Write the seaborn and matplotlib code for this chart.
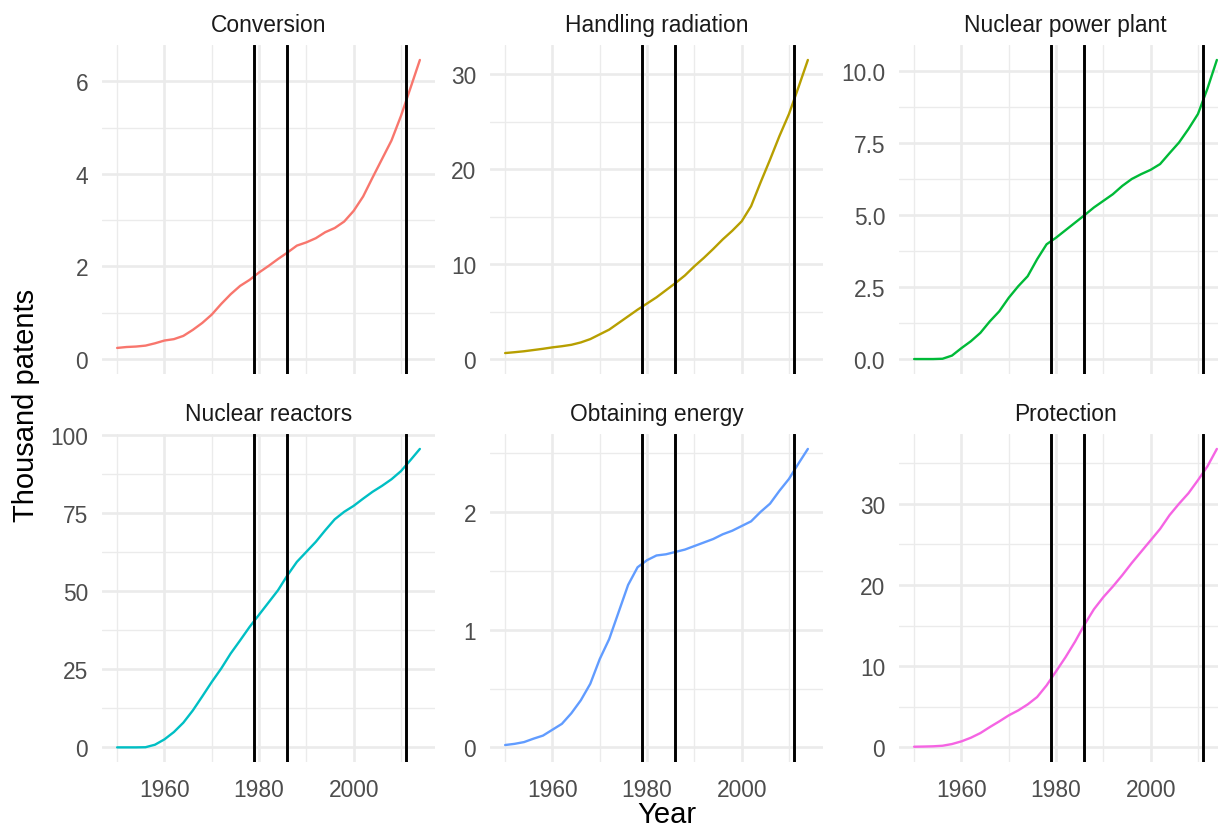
import matplotlib
matplotlib.use("Agg")
import matplotlib.pyplot as plt
from matplotlib.ticker import FixedLocator
import numpy as np
import pandas as pd
import seaborn as sns

# Cumulative patent counts (thousands), sampled every second year
years = list(range(1950, 2015, 2))

conversion = [0.24, 0.26, 0.27, 0.29, 0.34, 0.40, 0.43, 0.50, 0.63, 0.78, 0.96,
              1.19, 1.40, 1.58, 1.71, 1.87, 2.01, 2.16, 2.30, 2.45, 2.52, 2.61,
              2.74, 2.83, 2.97, 3.20, 3.51, 3.92, 4.32, 4.72, 5.25, 5.85, 6.46]
handling_radiation = [0.63, 0.72, 0.82, 0.95, 1.08, 1.23, 1.35, 1.50, 1.75, 2.10, 2.60,
                      3.10, 3.80, 4.50, 5.20, 5.85, 6.50, 7.25, 8.00, 8.80, 9.77, 10.65,
                      11.6, 12.6, 13.5, 14.5, 16.1, 18.6, 21.0, 23.5, 25.8, 28.6, 31.5]
nuclear_power_plant = [0.0, 0.0, 0.0, 0.01, 0.12, 0.38, 0.62, 0.91, 1.31, 1.66, 2.13,
                       2.53, 2.88, 3.47, 3.99, 4.22, 4.48, 4.74, 5.00, 5.27, 5.50, 5.73,
                       6.02, 6.26, 6.43, 6.58, 6.78, 7.16, 7.53, 8.00, 8.52, 9.40, 10.4]
nuclear_reactors = [0.0, 0.0, 0.0, 0.05, 0.85, 2.56, 4.9, 7.9, 11.8, 16.3, 20.9,
                    25.2, 30.0, 34.2, 38.5, 42.4, 46.3, 50.2, 55.0, 59.3, 62.5, 65.7,
                    69.4, 72.9, 75.3, 77.2, 79.5, 81.7, 83.6, 85.7, 88.3, 91.8, 95.4]
obtaining_energy = [0.02, 0.03, 0.045, 0.074, 0.10, 0.15, 0.20, 0.29, 0.40, 0.54, 0.75,
                    0.92, 1.15, 1.38, 1.53, 1.59, 1.63, 1.64, 1.66, 1.68, 1.71, 1.74,
                    1.77, 1.81, 1.84, 1.88, 1.92, 2.00, 2.07, 2.18, 2.28, 2.41, 2.535]
protection = [0.08, 0.10, 0.13, 0.20, 0.41, 0.74, 1.19, 1.76, 2.50, 3.20, 3.94,
              4.55, 5.29, 6.20, 7.63, 9.36, 11.1, 13.0, 15.1, 17.0, 18.5, 19.8,
              21.2, 22.7, 24.1, 25.5, 26.9, 28.6, 30.0, 31.3, 32.9, 34.6, 36.75]

categories = ["Conversion", "Handling radiation", "Nuclear power plant",
              "Nuclear reactors", "Obtaining energy", "Protection"]
series = [conversion, handling_radiation, nuclear_power_plant,
          nuclear_reactors, obtaining_energy, protection]

# Three Mile Island, Chernobyl, Fukushima
event_years = [1979, 1986, 2011]

x_breaks = [1960, 1980, 2000]
x_labels = ["1960", "1980", "2000"]
y_breaks = [
    [0, 2, 4, 6],
    [0, 10, 20, 30],
    [0, 2.5, 5, 7.5, 10],
    [0, 25, 50, 75, 100],
    [0, 1, 2],
    [0, 10, 20, 30],
]
y_labels = [
    ["0", "2", "4", "6"],
    ["0", "10", "20", "30"],
    ["0.0", "2.5", "5.0", "7.5", "10.0"],
    ["0", "25", "50", "75", "100"],
    ["0", "1", "2"],
    ["0", "10", "20", "30"],
]

palette = ["#F8766D", "#B79F00", "#00BA38", "#00BFC4", "#619CFF", "#F564E3"]

df = pd.DataFrame({
    "year": np.tile(years, len(categories)),
    "value": np.concatenate(series),
    "category": np.repeat(categories, len(years)),
})

sns.set_theme(style="white")
plt.rcParams["font.family"] = ["Liberation Sans", "DejaVu Sans"]

W, H = 1218, 829
fig = plt.figure(figsize=(W / 100, H / 100), dpi=100)

col_left = [102, 490, 899]
panel_w = 333
row_top = [46, 435]
row_bot = [375, 763.3]

TICK_SIZE = 16.4
TITLE_SIZE = 21
GRID = "#EBEBEB"


def minor_between(breaks, lo, hi):
    step = breaks[1] - breaks[0]
    cand = [b - step / 2 for b in breaks] + [breaks[-1] + step / 2]
    return [m for m in cand if lo <= m <= hi]


for i, cat in enumerate(categories):
    r, c = divmod(i, 3)
    ax = fig.add_axes([col_left[c] / W, 1 - row_bot[r] / H,
                       panel_w / W, (row_bot[r] - row_top[r]) / H])
    sub = df[df["category"] == cat]
    sns.lineplot(data=sub, x="year", y="value", color=palette[i], linewidth=1.7,
                 estimator=None, ax=ax, legend=False, zorder=2)
    for ev in event_years:
        ax.axvline(ev, color="black", linewidth=2.1, zorder=3)

    # free y scale per panel, anchored at zero, 5% padding
    ymax = sub["value"].max()
    ylo, yhi = -0.05 * ymax, 1.05 * ymax
    ax.set_ylim(ylo, yhi)
    xmin, xmax = min(years), max(years)
    xpad = 0.05 * (xmax - xmin)
    ax.set_xlim(xmin - xpad, xmax + xpad)

    ax.xaxis.set_major_locator(FixedLocator(x_breaks))
    ax.xaxis.set_minor_locator(FixedLocator(
        minor_between(x_breaks, xmin - xpad, xmax + xpad)))
    ax.set_yticks(y_breaks[i])
    ax.set_yticklabels(y_labels[i])
    ax.yaxis.set_minor_locator(FixedLocator(minor_between(y_breaks[i], ylo, yhi)))
    if r == 1:
        ax.set_xticklabels(x_labels)

    ax.grid(which="major", color=GRID, linewidth=1.9, zorder=0)
    ax.grid(which="minor", color=GRID, linewidth=0.95, zorder=0)
    ax.set_axisbelow(True)
    for s in ax.spines.values():
        s.set_visible(False)
    ax.tick_params(axis="both", which="both", length=0, colors="#4D4D4D",
                   labelsize=TICK_SIZE)
    ax.tick_params(axis="y", pad=10)
    ax.tick_params(axis="x", pad=11.5, labelbottom=(r == 1))
    ax.set_xlabel("")
    ax.set_ylabel("")
    ax.set_title(cat, fontsize=TICK_SIZE, color="#1A1A1A", pad=9.8)

fig.text(667 / W, 1 - 823 / H, "Year", ha="center", va="baseline",
         fontsize=TITLE_SIZE, color="black")
fig.text(34 / W, 1 - 405 / H, "Thousand patents", ha="center", va="baseline",
         rotation=90, rotation_mode="anchor", fontsize=TITLE_SIZE, color="black")

fig.savefig("out.png", dpi=100, facecolor="white")
